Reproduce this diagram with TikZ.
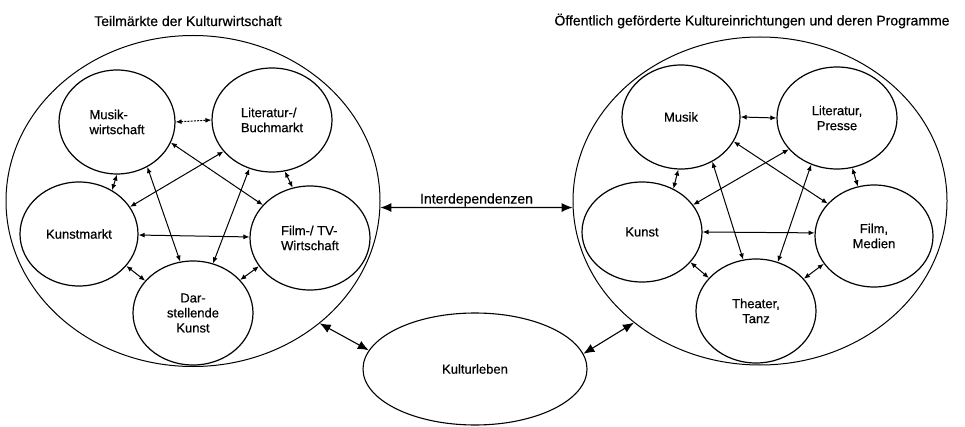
\documentclass[tikz,border=0pt]{standalone}
\usepackage{fontspec}
\newfontfamily\heavysans{Liberation Sans}[FakeBold=0.5]
\usetikzlibrary{shapes.geometric,arrows.meta}

\tikzset{
  field/.style={ellipse, draw, line width=1.2pt, inner sep=0pt,
    font=\heavysans\fontsize{13}{15}\selectfont, align=center},
  sphere/.style={ellipse, draw, line width=1pt, inner sep=0pt},
  link/.style={line width=1pt, {Latex[length=6pt,width=5pt]}-{Latex[length=6pt,width=5pt]}},
  biglink/.style={line width=1.1pt, {Latex[length=11pt,width=9pt]}-{Latex[length=11pt,width=9pt]}},
  heading/.style={font=\heavysans\fontsize{14}{16}\selectfont, inner sep=0pt},
}

\begin{document}
\begin{tikzpicture}[x=1pt, y=-1pt]
\useasboundingbox (0,0) rectangle (965,427);

% headings
\node[heading] (tl) at (188,21) {Teilmärkte der Kulturwirtschaft};
\node[heading] (tr) at (752,21) {Öffentlich geförderte Kultureinrichtungen und deren Programme};

% the two spheres and the cultural life between them
\node[sphere, minimum width=374pt, minimum height=331pt] (left) at (193,201) {};
\node[sphere, minimum width=374pt, minimum height=328pt] (right) at (760,201) {};
\node[field, line width=1.1pt, minimum width=224pt, minimum height=112pt] (kl) at (475,369) {Kulturleben};

% private cultural economy
\node[field, minimum width=116pt, minimum height=104pt, align=left] (m) at (117,122) {Musik-\\wirtschaft};
\node[field, minimum width=120pt, minimum height=104pt, align=left] (l) at (272,120) {Literatur-/\\Buchmarkt};
\node[field, minimum width=118pt, minimum height=104pt] (k) at (79,234) {Kunstmarkt};
\node[field, minimum width=120pt, minimum height=104pt, align=left] (f) at (310,238) {Film-/ TV-\\Wirtschaft};
\node[field, minimum width=120pt, minimum height=104pt] (d) at (193,313) {Dar-\\stellende\\Kunst};

% publicly funded institutions
\node[field, minimum width=118pt, minimum height=104pt] (m2) at (681,117) {Musik};
\node[field, minimum width=120pt, minimum height=102pt] (l2) at (837,118) {Literatur,\\Presse};
\node[field, minimum width=120pt, minimum height=100pt] (k2) at (642,232) {Kunst};
\node[field, minimum width=118pt, minimum height=102pt] (f2) at (874,236) {Film,\\Medien};
\node[field, minimum width=120pt, minimum height=104pt] (t2) at (756,311) {Theater,\\Tanz};

% links inside the left sphere
\draw[link, dash pattern=on 2pt off 1.2pt] (m.0) -- (l.180);
\draw[link] (m.-90) -- (k.53);
\draw[link] (m.-21.6) -- (f.145.5);
\draw[link] (m.-56.9) -- (d.104.3);
\draw[link] (l.213.1) -- (k.28.2);
\draw[link] (l.245.2) -- (d.68.2);
\draw[link] (l.-76) -- (f.109.5);
\draw[link] (k.-1) -- (f.179);
\draw[link] (k.-34) -- (d.146);
\draw[link] (f.209.2) -- (d.35);

% links inside the right sphere
\draw[link] (m2.0) -- (l2.180);
\draw[link] (m2.-93) -- (k2.54.8);
\draw[link] (m2.-25.7) -- (f2.145.2);
\draw[link] (m2.-55.2) -- (t2.104.5);
\draw[link] (l2.213.1) -- (k2.28.6);
\draw[link] (l2.241.1) -- (t2.66.7);
\draw[link] (l2.-73.8) -- (f2.108.4);
\draw[link] (k2.0) -- (f2.177);
\draw[link] (k2.-32.9) -- (t2.145.5);
\draw[link] (f2.209.6) -- (t2.34.8);

% links between the spheres
\draw[biglink] (left.-2) -- (right.182)
  node[midway, above, inner sep=0.5pt, font=\heavysans\fontsize{14}{16}\selectfont] (inter) {Interdependenzen};
\draw[biglink] (left.-44.8) -- (kl.170);
\draw[biglink] (right.224.3) -- (kl.8);
\end{tikzpicture}
\end{document}
